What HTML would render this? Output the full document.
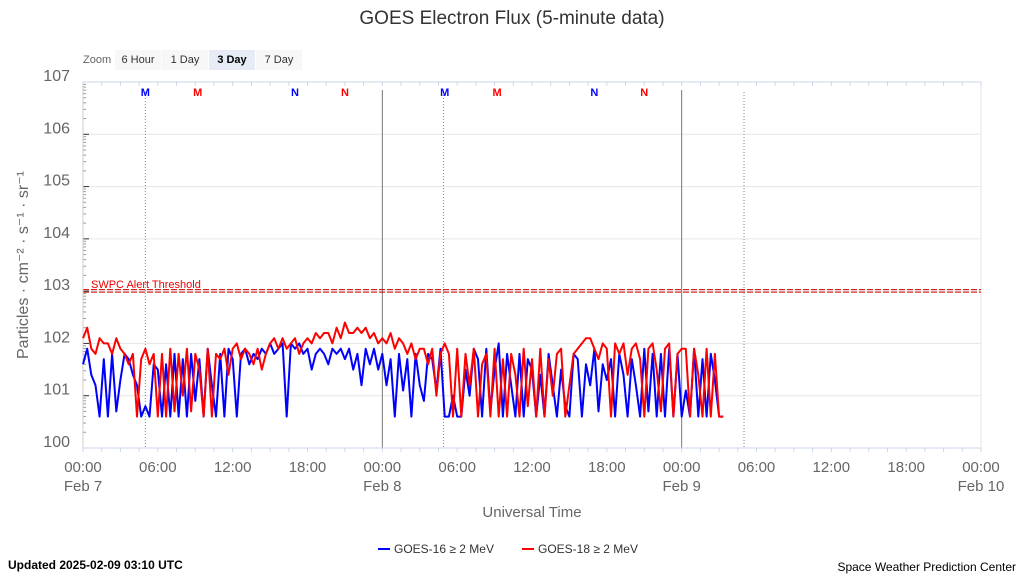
<!DOCTYPE html>
<html><head><meta charset="utf-8"><style>
body{margin:0;width:1024px;height:576px;background:#fff;overflow:hidden;font-family:"Liberation Sans","DejaVu Sans",sans-serif}
svg{display:block}
</style></head><body>
<svg id="chart" width="1024" height="576" xmlns="http://www.w3.org/2000/svg">
<text x="512" y="24" text-anchor="middle" font-size="19" fill="#333">GOES Electron Flux (5-minute data)</text>
<g font-size="11">
<text x="83" y="63" fill="#666">Zoom</text>
<rect x="115" y="50" width="46" height="20" fill="#f7f7f7"/><text x="138" y="63" text-anchor="middle" fill="#333">6 Hour</text>
<rect x="162" y="50" width="46" height="20" fill="#f7f7f7"/><text x="185" y="63" text-anchor="middle" fill="#333">1 Day</text>
<rect x="209" y="50" width="46" height="20" fill="#e6ebf5"/><text x="232" y="63" text-anchor="middle" fill="#000" font-weight="bold">3 Day</text>
<rect x="256" y="50" width="46" height="20" fill="#f7f7f7"/><text x="279" y="63" text-anchor="middle" fill="#333">7 Day</text>
</g>
<g id="grid"></g><g id="axes"></g><g id="series"></g>
<text transform="translate(28,265) rotate(-90)" text-anchor="middle" font-size="16" fill="#666">Particles · cm⁻² · s⁻¹ · sr⁻¹</text>
<text x="532" y="517" text-anchor="middle" font-size="15" fill="#666">Universal Time</text>
<g font-size="12" fill="#333">
<g><line x1="378" y1="549" x2="390" y2="549" stroke="#0000ff" stroke-width="2"/><text x="394" y="553">GOES-16 ≥ 2 MeV</text></g>
<g><line x1="522" y1="549" x2="534" y2="549" stroke="#ff0000" stroke-width="2"/><text x="538" y="553">GOES-18 ≥ 2 MeV</text></g>
</g>
<text x="8" y="569" font-size="12" font-weight="bold" fill="#000">Updated 2025-02-09 03:10 UTC</text>
<text x="1016" y="571" text-anchor="end" font-size="12" fill="#000">Space Weather Prediction Center</text>
</svg>
<script>
const yTickExps=[0,1,2,3,4,5,6,7];
const xTickLabels=["00:00","06:00","12:00","18:00","00:00","06:00","12:00","18:00","00:00","06:00","12:00","18:00","00:00"];
const xDayLabels={0:"Feb 7",4:"Feb 8",8:"Feb 9",12:"Feb 10"};
const alertThreshold=3;
const markerHours=[5,9.2,17,21,29,33.2,41,45];
const markerLabels=["M","M","N","N","M","M","N","N"];
const markerColors=["#0000ff","#ff0000","#0000ff","#ff0000","#0000ff","#ff0000","#0000ff","#ff0000"];
const dottedHours=[5,28.9,53];
const stepMinutes=20;
const goes16=[1.6,1.9,1.4,1.2,0.6,1.7,0.6,1.8,0.7,1.3,1.8,1.7,1.4,1.2,0.6,0.8,0.6,1.6,1.5,0.6,1.6,0.6,1.8,0.6,1.7,0.6,1.8,0.9,1.7,0.6,1.9,1.2,0.6,1.8,0.6,1.9,1.7,0.6,1.8,1.9,1.6,1.8,1.7,1.9,1.8,2.0,1.8,1.9,2.0,0.6,2.0,1.9,2.0,1.8,1.9,1.5,1.8,1.9,1.8,1.6,1.9,1.8,1.9,1.7,1.9,1.5,1.8,1.2,1.9,1.6,1.9,1.5,
1.8,1.2,1.7,0.6,1.8,1.1,1.7,0.6,1.8,1.2,0.9,1.8,1.7,1.1,1.9,0.6,0.6,1.0,0.6,0.6,1.5,1.0,1.9,1.7,0.6,1.9,0.7,1.5,2.0,0.6,1.8,1.2,0.6,1.8,0.6,1.7,1.5,0.6,1.4,0.6,1.8,1.2,0.6,1.5,0.8,0.6,1.8,1.7,0.6,1.6,1.2,1.9,0.7,1.6,1.3,1.7,0.6,1.8,1.4,0.6,1.7,1.2,0.6,1.9,0.7,1.8,0.6,1.8,0.6,1.9,0.6,1.8,
0.6,1.1,0.6,1.9,0.6,1.7,0.6,1.8,1.3,0.6,0.6];
const goes18=[2.1,2.3,1.9,1.8,2.1,2.0,2.0,1.8,2.1,1.9,1.8,1.6,1.8,0.6,1.7,1.9,1.6,1.8,0.6,1.8,0.6,1.9,0.7,1.8,1.0,1.9,0.7,1.8,1.5,0.6,1.9,0.6,1.8,1.7,1.9,1.4,1.9,2.0,1.7,1.9,1.8,1.6,1.9,1.5,1.8,2.0,2.1,1.9,2.1,1.9,2.0,2.1,1.8,2.0,2.1,2.0,2.2,2.1,2.2,2.2,2.0,2.3,2.1,2.4,2.2,2.2,2.3,2.2,2.3,2.1,2.2,2.0,
2.1,2.0,2.2,1.9,2.1,2.0,1.8,2.0,1.7,1.9,1.9,1.6,1.9,1.0,1.8,2.0,1.8,0.6,1.9,0.6,1.8,1.2,1.9,0.6,1.6,1.8,0.6,1.9,0.6,1.7,0.6,1.8,1.4,0.6,1.9,0.8,1.7,0.6,1.9,0.6,1.7,1.0,1.8,1.9,0.6,1.2,1.8,1.9,2.0,2.1,2.1,1.9,1.7,2.0,1.9,0.6,2.0,1.8,2.0,1.4,1.9,2.0,1.7,0.6,1.9,2.0,1.5,0.7,1.9,2.0,0.6,1.8,
1.9,1.9,0.6,1.9,1.4,0.6,1.9,0.6,1.8,0.6,0.6];
const X0=83,X1=981,Y0=448,Y1=82,HOURS=72;
const xs=h=>X0+(X1-X0)*h/HOURS;
const ys=e=>Y0-(Y0-Y1)*e/7;
const NS="http://www.w3.org/2000/svg";
function mk(tag,attrs,parent){const el=document.createElementNS(NS,tag);for(const k in attrs)el.setAttribute(k,attrs[k]);parent.appendChild(el);return el;}
const grid=document.getElementById('grid'),axes=document.getElementById('axes'),series=document.getElementById('series');
mk('rect',{x:X0,y:Y1,width:X1-X0,height:Y0-Y1,fill:'none',stroke:'#e6e6e6'},grid);
yTickExps.forEach(e=>{
 const y=ys(e);
 const gl=mk('line',{x1:X0,x2:X1,y1:y,y2:y,stroke:'#e6e6e6'},grid);
 
 
 mk('line',{x1:X0,x2:X0+6,y1:y,y2:y,stroke:'#333'},axes);
 if(e<7){for(let k=2;k<=9;k++){const yy=y-(Y0-Y1)/7*Math.log10(k);mk('line',{x1:X0,x2:X0+3,y1:yy,y2:yy,stroke:'#999'},axes);}}
 const t=mk('text',{x:70,y:y-1,'text-anchor':'end','font-size':16,fill:'#666'},axes);
 t.textContent='10'+e;
 
 
});
mk('line',{x1:X0,x2:X0,y1:Y1,y2:Y0,stroke:'#ccc'},axes);
mk('line',{x1:X0,x2:X1,y1:Y0,y2:Y0,stroke:'#ccd6eb'},axes);
mk('line',{x1:X0,x2:X1,y1:Y1,y2:Y1,stroke:'#ccd6eb'},axes);
for(let h=0;h<=HOURS;h+=1.5){const x=xs(h);mk('line',{x1:x,x2:x,y1:Y0,y2:Y0+4,stroke:'#ccd6eb'},axes);mk('line',{x1:x,x2:x,y1:Y1,y2:Y1+4,stroke:'#ccd6eb'},axes);}
xTickLabels.forEach((lab,i)=>{
 const x=xs(i*6);
 const t=mk('text',{x:x,y:472,'text-anchor':'middle','font-size':15,fill:'#666'},axes);
 t.textContent=lab;
 
 
 if(xDayLabels[i]){const d=mk('text',{x:x,y:491,'text-anchor':'middle','font-size':15,fill:'#666'},axes);d.textContent=xDayLabels[i];
 
 }
});
[24,48].forEach(h=>{const l=mk('line',{x1:xs(h),x2:xs(h),y1:90,y2:Y0,stroke:'#777','stroke-width':1},grid);
 
 });
dottedHours.forEach(h=>{const l=mk('line',{x1:xs(h),x2:xs(h),y1:92,y2:Y0,stroke:'#888','stroke-dasharray':'1,2'},grid);
 
 });
markerHours.forEach((h,i)=>{const t=mk('text',{x:xs(h),y:96,'text-anchor':'middle','font-size':11,'font-weight':'bold',fill:markerColors[i]},grid);t.textContent=markerLabels[i];
 
 });
const ty=ys(alertThreshold);
const th=mk('g',{},grid);


mk('line',{x1:X0,x2:X1,y1:ty-1.5,y2:ty-1.5,stroke:'#c00','stroke-dasharray':'6,2'},th);
mk('line',{x1:X0,x2:X1,y1:ty+1,y2:ty+1,stroke:'#c00','stroke-dasharray':'6,2'},th);
const tt=mk('text',{x:91,y:ty-3,'font-size':11,fill:'#e00'},th);tt.textContent='SWPC Alert Threshold';
function drawSeries(arr,color,name){
 const pts=arr.map((v,i)=>xs(i*stepMinutes/60).toFixed(1)+','+ys(v).toFixed(1)).join(' ');
 const p=mk('polyline',{points:pts,fill:'none',stroke:color,'stroke-width':2,'stroke-linejoin':'round'},series);
 
 
}
drawSeries(goes16,'#0000ff','goes-16-line');
drawSeries(goes18,'#ff0000','goes-18-line');
</script>
</body></html>
